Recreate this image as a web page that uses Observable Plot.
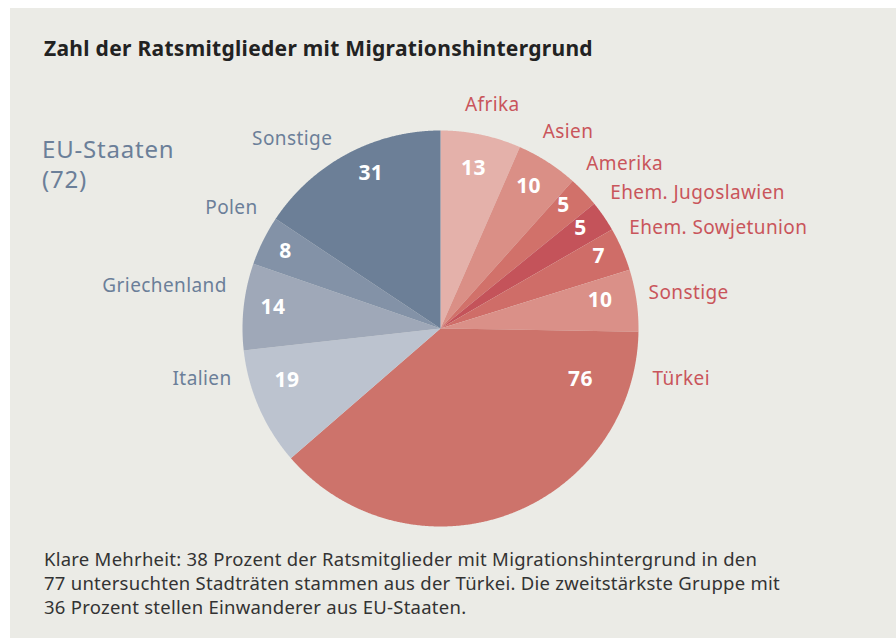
<!DOCTYPE html>
<html><head><meta charset="utf-8">
<script src="https://cdn.jsdelivr.net/npm/d3@7"></script>
<script src="https://cdn.jsdelivr.net/npm/@observablehq/plot@0.6"></script>
<style>
html,body{margin:0;padding:0;background:#fff;width:896px;height:638px;overflow:hidden;}
#panel{position:absolute;left:10px;top:8px;width:886px;height:630px;background:#ebebe6;font-family:"Noto Sans",sans-serif;}
#title{position:absolute;left:34px;top:30px;font-size:21px;line-height:21px;letter-spacing:0.3px;font-weight:bold;color:#222;white-space:nowrap;}
.eu{position:absolute;left:32px;font-size:24px;line-height:24px;letter-spacing:0.8px;color:#6b7f99;white-space:nowrap;}
#eu1{top:129px;}
#eu2{top:159px;}
#chart{position:absolute;left:0;top:62px;}
#caption{position:absolute;left:34px;top:539px;font-size:18.5px;line-height:24px;letter-spacing:0.25px;color:#333;white-space:nowrap;}
</style></head>
<body>
<div id="panel">
  <div id="title">Zahl der Ratsmitglieder mit Migrationshintergrund</div>
  <div id="eu1" class="eu"></div>
  <div id="eu2" class="eu"></div>
  <div id="chart"></div>
  <div id="caption">Klare Mehrheit: 38 Prozent der Ratsmitglieder mit Migrationshintergrund in den<br>77 untersuchten Stadträten stammen aus der Türkei. Die zweitstärkste Gruppe mit<br>36 Prozent stellen Einwanderer aus EU-Staaten.</div>
</div>
<script>
// ---- data (clockwise from 12 o'clock) ----
const categories = ["Afrika","Asien","Amerika","Ehem. Jugoslawien","Ehem. Sowjetunion","Sonstige","Türkei","Italien","Griechenland","Polen","Sonstige"];
const values     = [13, 10, 5, 5, 7, 10, 76, 19, 14, 8, 31];
const groups     = ["Nicht-EU","Nicht-EU","Nicht-EU","Nicht-EU","Nicht-EU","Nicht-EU","Nicht-EU","EU","EU","EU","EU"];
const euLabel    = "EU-Staaten";

// ---- styles ----
const sliceColors = ["#e4b1aa","#da8f86","#d1716a","#c4535a","#cf6d68","#da9088","#cd736b","#bcc3cf","#9fa8b8","#8392a7","#6c7f97"];
const groupTextColor = {"Nicht-EU": "#c9555b", "EU": "#6b7f99"};

// ---- layout (label placement relative to slice mid-angle, degrees / px) ----
const R = 198;
const innerShift  = [-0.2,-0.9,-1.4,-1.0,-0.9,-1.8,-50,5,1,0,4];
const innerRadius = [164,167,174,172,174,162,149,162,169,173,170];
const outerShift  = [1.2,0.3,-4.9,-4.0,-4.5,-1.4,-56.6,10,5,7,-9.8];
const outerRadius = [230,234,220,217,214,211,218,215,218,219,241];
const outerAnchor = ["middle","middle","start","start","start","start","start","end","end","end","middle"];

const rows = categories.map((c, i) => ({i, category: c, value: values[i], group: groups[i]}));
const arcs = d3.pie().sort(null).value(d => d.value).startAngle(0).endAngle(2 * Math.PI)(rows);

const rad = Math.PI / 180;
const pts = [];
for (const a of arcs) {
  const i = a.data.i;
  pts.push({i, x: 0, y: 0, c: sliceColors[i]});
  const n = Math.max(2, Math.ceil((a.endAngle - a.startAngle) / (0.25 * rad)));
  for (let k = 0; k <= n; k++) {
    const t = a.startAngle + (a.endAngle - a.startAngle) * k / n;
    pts.push({i, x: R * Math.sin(t), y: -R * Math.cos(t), c: sliceColors[i]});
  }
  pts.push({i, x: 0, y: 0, c: sliceColors[i]});
}

const inner = arcs.map(a => {
  const i = a.data.i;
  const t = (a.startAngle + a.endAngle) / 2 + innerShift[i] * rad;
  return {x: innerRadius[i] * Math.sin(t), y: -innerRadius[i] * Math.cos(t), text: String(a.data.value)};
});
const outer = arcs.map(a => {
  const i = a.data.i;
  const t = (a.startAngle + a.endAngle) / 2 + outerShift[i] * rad;
  return {x: outerRadius[i] * Math.sin(t), y: -outerRadius[i] * Math.cos(t), text: a.data.category,
          c: groupTextColor[a.data.group], anchor: outerAnchor[i]};
});

const euTotal = d3.sum(rows.filter(d => d.group === "EU"), d => d.value);
document.getElementById("eu1").textContent = euLabel;
document.getElementById("eu2").textContent = "(" + euTotal + ")";

const textStyle = {fontSize: 19, fill: d => d.c};
const chart = Plot.plot({
  width: 886, height: 470, margin: 0,
  x: {domain: [-430, 456], range: [0, 886], axis: null},
  y: {domain: [-258, 212], range: [0, 470], axis: null},
  color: {type: "identity"},
  style: {background: "transparent", fontFamily: "Noto Sans, sans-serif", overflow: "visible"},
  marks: [
    Plot.line(pts, {x: "x", y: "y", z: "i", fill: d => d.c, stroke: "none", curve: "linear"}),
    Plot.text(inner, {x: "x", y: "y", text: "text", fill: "white", fontSize: 21, fontWeight: "bold"}),
    Plot.text(outer.filter(d => d.anchor === "start"), {x: "x", y: "y", text: "text", textAnchor: "start", ...textStyle}),
    Plot.text(outer.filter(d => d.anchor === "end"), {x: "x", y: "y", text: "text", textAnchor: "end", ...textStyle}),
    Plot.text(outer.filter(d => d.anchor === "middle"), {x: "x", y: "y", text: "text", textAnchor: "middle", ...textStyle})
  ]
});
chart.querySelectorAll("text").forEach(t => { if (t.getAttribute("fill") !== "white") t.style.letterSpacing = "0.4px"; });
document.getElementById("chart").appendChild(chart);
</script>
</body></html>
